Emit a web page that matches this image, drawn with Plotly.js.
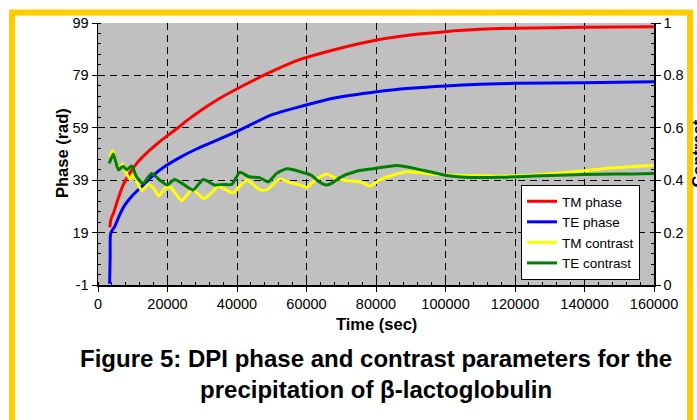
<!DOCTYPE html>
<html>
<head>
<meta charset="utf-8">
<script src="https://cdn.plot.ly/plotly-3.0.1.min.js"></script>
<style>
html,body{margin:0;padding:0;background:#fff;}
#chart{width:697px;height:420px;}
</style>
</head>
<body>
<div id="chart"></div>
<script>
// ---- data ----
const tmPhaseTime = [3400,3700,4600,5800,7200,9100,11500,14500,17300,20000,23000,26000,32600,40300,49900,57600,67700,80200,89800,99900,110000,120000,139700,160000];
const tmPhase     = [21,24,27,32,37,41.6,46,50,53.2,56,59,62.2,68.3,74.1,80.4,84.8,88.7,92.5,94.4,95.7,96.6,97,97.4,97.6];

const tePhaseTime = [3350,3500,3650,4800,6200,7700,9600,12500,15400,19200,24000,28500,33600,40300,49900,57600,67700,80200,89800,99900,110000,120000,139700,160000];
const tePhase     = [-0.5,10,18.7,21.3,25.7,29.5,32.7,36.5,40.3,44.2,48,51,53.9,57.8,63.9,66.9,70.3,72.8,74.1,75,75.6,76,76.2,76.6];

const tmContrastTime = [3400,4200,5400,6300,7000,8000,9200,10300,11500,12600,14500,16000,17400,19500,21000,22500,24100,26000,27200,29000,30500,32500,34600,36500,38900,41000,42800,45000,46600,48500,50500,52400,55000,58100,60100,62900,65800,68700,71600,75400,78300,81200,85000,88800,92700,96500,100300,106100,115700,125300,134900,144500,154000,160000];
const tmContrast     = [0.490,0.513,0.455,0.445,0.462,0.430,0.405,0.420,0.385,0.360,0.384,0.370,0.340,0.372,0.372,0.345,0.322,0.350,0.365,0.345,0.330,0.350,0.378,0.365,0.352,0.380,0.401,0.380,0.363,0.363,0.385,0.405,0.392,0.382,0.373,0.405,0.423,0.407,0.398,0.394,0.378,0.402,0.420,0.432,0.429,0.423,0.420,0.418,0.416,0.420,0.429,0.443,0.452,0.456];

const teContrastTime = [3200,3700,4400,5100,5900,6800,7300,8300,9700,11100,13000,15400,17600,19900,22100,24500,27400,30300,33500,36100,38500,40800,43500,46500,49000,51400,54300,56800,59100,61500,63500,65600,67500,69600,74400,79200,86000,90700,95500,100300,106100,115700,125300,134900,144500,154000,160000];
const teContrast     = [0.464,0.480,0.500,0.470,0.439,0.450,0.452,0.440,0.454,0.413,0.388,0.426,0.402,0.382,0.403,0.385,0.363,0.403,0.382,0.384,0.384,0.430,0.413,0.410,0.394,0.426,0.444,0.438,0.429,0.418,0.395,0.382,0.390,0.410,0.434,0.444,0.456,0.446,0.432,0.418,0.411,0.411,0.416,0.420,0.423,0.424,0.426];

const seriesNames = ["TM phase","TE phase","TM contrast","TE contrast"];
const phaseTicks = [-1,19,39,59,79,99];
const contrastTicks = [0,0.2,0.4,0.6,0.8,1];
const timeTicks = [0,20000,40000,60000,80000,100000,120000,140000,160000];
const axisTitles = {x:"Time (sec)", y:"Phase (rad)", y2:"Contrast"};
const captionLines = ["Figure 5: DPI phase and contrast parameters for the","precipitation of β-lactoglobulin"];

// ---- layout geometry ----
const W = 697, H = 420;
const M = {l:98, r:43, t:23, b:135};
const pw = W - M.l - M.r, ph = H - M.t - M.b;
const px = x => (x - M.l) / pw;          // pixel -> paper x
const py = y => (H - M.b - y) / ph;      // pixel -> paper y

const FONT = "Liberation Sans, Arial, sans-serif";

function line(x, y, name, color, yaxis) {
  return {x:x, y:y, name:name, type:'scatter', mode:'lines', yaxis:yaxis,
          line:{color:color, width:3, shape:'spline', smoothing:0.6}};
}

const data = [
  line(tmPhaseTime, tmPhase, seriesNames[0], '#FF0000', 'y'),
  line(tePhaseTime, tePhase, seriesNames[1], '#0000FF', 'y'),
  line(tmContrastTime, tmContrast, seriesNames[2], '#FFFF00', 'y2'),
  line(teContrastTime, teContrast, seriesNames[3], '#008000', 'y2')
];

const gridDash = "7px,5px";
const TICK = 14.5;
const TITLE = {family:FONT, size:16.5, weight:'bold', color:'#000'};
const layout = {
  width:W, height:H,
  margin:M,
  paper_bgcolor:'#FFFFFF',
  plot_bgcolor:'#C0C0C0',
  font:{family:FONT, color:'#000', size:13},
  showlegend:true,
  legend:{x:px(640), xanchor:'right', y:py(232.5), yanchor:'middle',
          bgcolor:'#FFFFFF', bordercolor:'#000', borderwidth:1,
          font:{family:FONT, size:13.5, color:'#000'}},
  xaxis:{range:[0,160000], tickvals:timeTicks, ticktext:timeTicks.map(String),
         showline:true, linecolor:'#000', linewidth:1.5,
         ticks:'outside', ticklen:5, tickcolor:'#000', tickwidth:1,
         minor:{dtick:4000, ticks:'inside', ticklen:3, tickcolor:'#000', showgrid:false},
         showgrid:true, gridcolor:'#000', gridwidth:1, griddash:gridDash,
         zeroline:false, tickfont:{size:TICK}},
  yaxis:{range:[-1,99], tickvals:phaseTicks, ticktext:phaseTicks.map(String),
         showline:true, linecolor:'#000', linewidth:1.5,
         ticks:'outside', ticklen:5, tickcolor:'#000',
         minor:{dtick:4, tick0:-1, ticks:'inside', ticklen:3, tickcolor:'#000', showgrid:false},
         showgrid:true, gridcolor:'#000', gridwidth:1, griddash:gridDash,
         zeroline:false, tickfont:{size:TICK}},
  yaxis2:{range:[0,1], overlaying:'y', side:'right', tickvals:contrastTicks,
          ticktext:contrastTicks.map(String),
          showline:true, linecolor:'#000', linewidth:1.5,
          ticks:'outside', ticklen:5, tickcolor:'#000',
          minor:{dtick:0.04, ticks:'inside', ticklen:3, tickcolor:'#000', showgrid:false},
          showgrid:false, zeroline:false, tickfont:{size:TICK}},
  shapes:[
    {type:'rect', xref:'paper', yref:'paper', layer:'above',
     x0:px(12), x1:px(690), y0:py(12.5), y1:py(440),
     line:{color:'#FFCC00', width:6}, fillcolor:'rgba(0,0,0,0)'}
  ],
  annotations:[
    {text:axisTitles.x, xref:'paper', yref:'paper', x:px(376), y:py(324),
     xanchor:'center', yanchor:'middle', showarrow:false, font:TITLE},
    {text:axisTitles.y, xref:'paper', yref:'paper', x:px(61.5), y:py(153.5),
     xanchor:'center', yanchor:'middle', textangle:-90, showarrow:false, font:TITLE},
    {text:axisTitles.y2, xref:'paper', yref:'paper', x:px(686), y:py(153.5),
     xanchor:'left', yanchor:'middle', textangle:-90, showarrow:false, font:TITLE},
    {text:captionLines.join('<br>'), xref:'paper', yref:'paper',
     x:px(376), y:py(373.5), xanchor:'center', yanchor:'middle', showarrow:false,
     font:{family:FONT, size:24, weight:'bold', color:'#000'}, align:'center'}
  ]
};

Plotly.newPlot('chart', data, layout, {staticPlot:true, displayModeBar:false});
</script>
</body>
</html>
